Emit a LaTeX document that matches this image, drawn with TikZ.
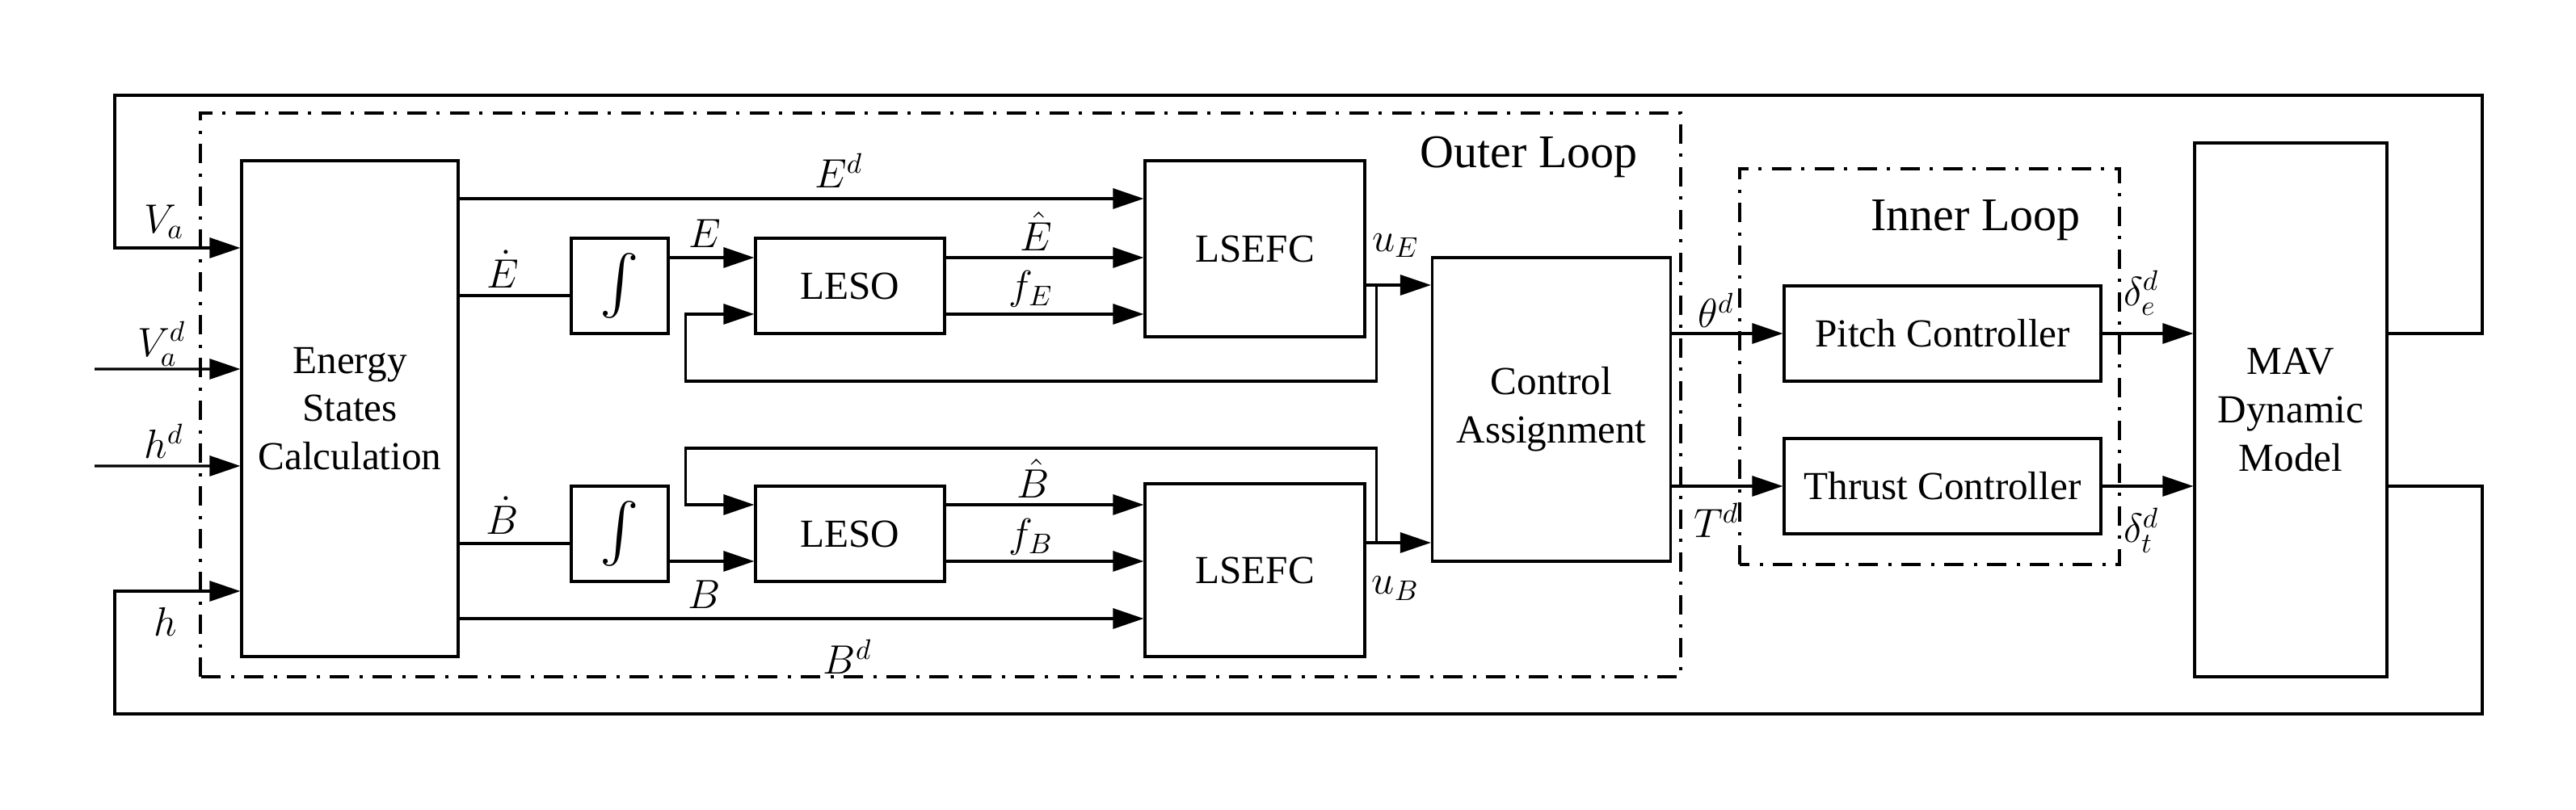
\documentclass[tikz,border=0pt]{standalone}
\usepackage{amsmath}
\usepackage{fontspec}
\setmainfont{Liberation Serif}
\usepackage{tikz}
\usetikzlibrary{arrows.meta,positioning,calc}

\begin{document}
\begin{tikzpicture}[
  x=1cm,
  y=1cm,
  font=\fontsize{14}{17}\selectfont,
  >={Triangle[length=3.8mm,width=2.5mm]},
  flow/.style={->, line width=0.9pt, draw=black},
  wire/.style={line width=0.9pt, draw=black},
  block/.style={draw=black, line width=0.9pt, align=center, inner sep=2pt},
  intbox/.style={block, minimum width=1.20cm, minimum height=1.18cm,
    font=\fontsize{20}{22}\selectfont},
  lesobox/.style={block, minimum width=2.34cm, minimum height=1.18cm},
  lsefcbox/.style={block, minimum width=2.72cm, minimum height=2.16cm},
  ctrlbox/.style={block, minimum width=3.92cm, minimum height=1.18cm},
  loopbox/.style={draw=black, line width=0.9pt,
    dash pattern=on 2.4mm off 1.2mm on 0.4mm off 1.3mm},
  looplabel/.style={font=\fontsize{16.5}{19}\selectfont},
  sig/.style={inner sep=1pt},
  over/.style={sig, anchor=south},
  under/.style={sig, anchor=north}
]
\useasboundingbox (0,0) rectangle (31.88,10.03);

% Dash-dot frames of the two loops.
\draw[loopbox] (2.48,1.65) rectangle (20.80,8.63);
\draw[loopbox] (21.53,3.04) rectangle (26.23,7.94);
\node[looplabel] (outerlbl) at (18.92,8.09) {Outer Loop};
\node[looplabel] (innerlbl) at (24.45,7.30) {Inner Loop};

% Blocks.
\node[block, minimum width=2.68cm, minimum height=6.14cm] (energy) at (4.33,4.97)
  {Energy\\States\\Calculation};
\node[intbox] (int1) at (7.67,6.49) {$\int$};
\node[intbox] (int2) at (7.67,3.42) {$\int$};
\node[lesobox] (leso1) at (10.52,6.49) {LESO};
\node[lesobox] (leso2) at (10.52,3.42) {LESO};
\node[lsefcbox, minimum height=2.18cm] (lsefc1) at (15.53,6.95) {LSEFC};
\node[lsefcbox, minimum height=2.14cm] (lsefc2) at (15.53,2.97) {LSEFC};
\node[block, minimum width=2.95cm, minimum height=3.76cm] (ca) at (19.20,4.96)
  {Control\\Assignment};
\node[ctrlbox] (pitch) at (24.04,5.90) {Pitch Controller};
\node[ctrlbox] (thrust) at (24.04,4.01) {Thrust Controller};
\node[block, minimum width=2.38cm, minimum height=6.61cm] (mav) at (28.35,4.955)
  {MAV\\Dynamic\\Model};

% Ports on the block borders.
\coordinate (va) at ([yshift=19.9mm]energy.west);
\coordinate (vad) at ([yshift=4.9mm]energy.west);
\coordinate (hd) at ([yshift=-7.1mm]energy.west);
\coordinate (hin) at ([yshift=-22.6mm]energy.west);
\coordinate (vadsrc) at (1.17,5.46);
\coordinate (hdsrc) at (1.17,4.26);
\coordinate (edrail) at ([yshift=6.2mm]lsefc1.west);
\coordinate (edot) at ([yshift=-1.2mm]int1.west);
\coordinate (eout) at ([yshift=3.5mm]int1.east);
\coordinate (ehat) at ([yshift=3.5mm]leso1.east);
\coordinate (fe) at ([yshift=-3.5mm]leso1.east);
\coordinate (febin) at ([yshift=-3.5mm]leso1.west);
\coordinate (ue) at ([yshift=-4.5mm]lsefc1.east);
\coordinate (uebr) at ([xshift=1.3mm]ue);
\coordinate (bdrail) at ([yshift=-6mm]lsefc2.west);
\coordinate (bdot) at ([yshift=-1.2mm]int2.west);
\coordinate (bout) at ([yshift=-3.4mm]int2.east);
\coordinate (bhat) at ([yshift=3.6mm]leso2.east);
\coordinate (fb) at ([yshift=-3.4mm]leso2.east);
\coordinate (fbbin) at ([yshift=3.6mm]leso2.west);
\coordinate (ub) at ([yshift=3.4mm]lsefc2.east);
\coordinate (ubbr) at ([xshift=1.3mm]ub);

% Reference inputs.
\draw[flow] (vadsrc) -- (vad);
\draw[flow] (hdsrc) -- (hd);

% Energy channel.
\draw[flow] (energy.east |- edrail) -- (edrail);
\draw[wire] (energy.east |- edot) -- (edot);
\draw[flow] (eout) -- (eout -| leso1.west);
\draw[flow] (ehat) -- (ehat -| lsefc1.west);
\draw[flow] (fe) -- (fe -| lsefc1.west);
\draw[flow] (ue) -- (ue -| ca.west);
\draw[flow] (uebr) |- ($(febin)+(-0.85,-0.83)$) |- (febin);

% Energy distribution channel.
\draw[flow] (energy.east |- bdrail) -- (bdrail);
\draw[wire] (energy.east |- bdot) -- (bdot);
\draw[flow] (bout) -- (bout -| leso2.west);
\draw[flow] (bhat) -- (bhat -| lsefc2.west);
\draw[flow] (fb) -- (fb -| lsefc2.west);
\draw[flow] (ub) -- (ub -| ca.west);
\draw[flow] (ubbr) |- ($(fbbin)+(-0.85,0.70)$) |- (fbbin);

% Inner loop and plant.
\draw[flow] (ca.east |- pitch) -- (pitch.west);
\draw[flow] (ca.east |- thrust) -- (thrust.west);
\draw[flow] (pitch.east) -- (pitch -| mav.west);
\draw[flow] (thrust.east) -- (thrust -| mav.west);

% Measured states fed back round the whole scheme.
\draw[flow] (pitch -| mav.east) -- (30.72,5.90) |- (1.42,8.85) |- (va);
\draw[flow] (thrust -| mav.east) -- (30.72,4.01) |- (1.42,1.19) |- (hin);

% Signal labels.
\node[over] (lVa) at (2.03,7.03) {$V_a$};
\node[over] (lVad) at (2.00,5.45) {$V_a^d$};
\node[over] (lhd) at (2.03,4.31) {$h^d$};
\node[under] (lh) at (2.05,2.55) {$h$};
\node[over] (lEdot) at (6.22,6.42) {$\dot{E}$};
\node[over] (lE) at (8.72,6.92) {$E$};
\node[over] (lBdot) at (6.22,3.37) {$\dot{B}$};
\node[under] (lB) at (8.72,2.88) {$B$};
\node[over] (lEd) at (10.38,7.66) {$E^d$};
\node[over] (lEhat) at (12.82,6.88) {$\hat{E}$};
\node[over] (lfE) at (12.76,6.18) {$f_E$};
\node[over] (lBhat) at (12.79,3.82) {$\hat{B}$};
\node[over] (lfB) at (12.76,3.11) {$f_B$};
\node[under] (lBd) at (10.49,2.15) {$B^d$};
\node[over] (luE) at (17.27,6.80) {$u_E$};
\node[under] (luB) at (17.27,2.93) {$u_B$};
\node[over] (lth) at (21.24,5.93) {$\theta^d$};
\node[under] (lT) at (21.24,3.84) {$T^d$};
\node[over] (lde) at (26.50,6.08) {$\delta_e^d$};
\node[under] (ldt) at (26.50,3.78) {$\delta_t^d$};

\end{tikzpicture}
\end{document}
